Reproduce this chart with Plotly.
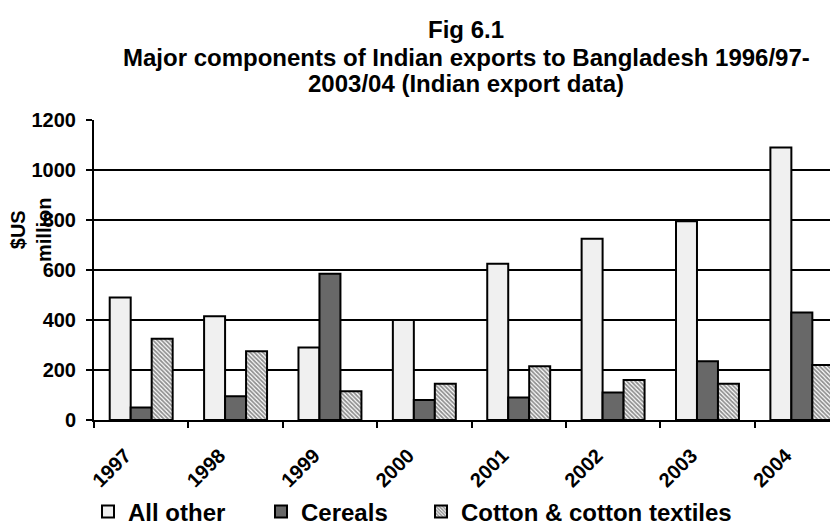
import plotly.graph_objects as go

years = ["1997", "1998", "1999", "2000", "2001", "2002", "2003", "2004"]
all_other = [490, 415, 290, 400, 625, 725, 795, 1090]
cereals = [50, 95, 585, 80, 90, 110, 235, 430]
cotton = [325, 275, 115, 145, 215, 160, 145, 220]
y_ticks = [0, 200, 400, 600, 800, 1000, 1200]
title_lines = ["Fig 6.1",
               "Major components of Indian exports to Bangladesh 1996/97-",
               "2003/04 (Indian export data)"]

FONT = "Liberation Sans, Arial, sans-serif"
# page body has an 8px margin in the browser; work in window coordinates
OFF = 8
PLOT_TOP, PLOT_BOTTOM, PLOT_LEFT, PLOT_RIGHT = 120, 420, 94, 838
W, H = 838 - OFF, 525 - OFF


def py(px):
    return (PLOT_BOTTOM - px) / (PLOT_BOTTOM - PLOT_TOP)


def pxx(px):
    return (px - PLOT_LEFT) / (PLOT_RIGHT - PLOT_LEFT)


fig = go.Figure()
fig.add_trace(go.Bar(
    x=years, y=all_other, name="All other", legend="legend",
    marker=dict(color="#f0f0f0", line=dict(color="black", width=2)),
))
fig.add_trace(go.Bar(
    x=years, y=cereals, name="Cereals", legend="legend2",
    marker=dict(color="#686868", line=dict(color="black", width=2)),
))
fig.add_trace(go.Bar(
    x=years, y=cotton, name="Cotton & cotton textiles", legend="legend3",
    marker=dict(color="white", line=dict(color="black", width=2),
                pattern=dict(shape="\\", fgcolor="#222222", bgcolor="white",
                             size=3, solidity=0.6)),
))

legend_font = dict(family=FONT, size=24, color="black", weight="bold")
leg_common = dict(orientation="h", xanchor="left", y=py(512), yanchor="middle",
                  font=legend_font, bgcolor="rgba(0,0,0,0)")

annotations = []
for txt, ycen in zip(title_lines, [30, 57, 84]):
    annotations.append(dict(text=txt, xref="paper", yref="paper", x=0.5, y=py(ycen),
                            xanchor="center", yanchor="middle", showarrow=False,
                            font=dict(family=FONT, size=24, color="black", weight="bold")))
annotations.append(dict(text="$US<br>million", textangle=-90,
                        xref="paper", yref="paper", x=pxx(31), y=py(230),
                        xanchor="center", yanchor="middle", showarrow=False,
                        font=dict(family=FONT, size=20, color="black", weight="bold")))

fig.update_layout(
    width=W, height=H,
    margin=dict(l=PLOT_LEFT - OFF, r=0, t=PLOT_TOP - OFF, b=H - (PLOT_BOTTOM - OFF),
                autoexpand=False),
    paper_bgcolor="white", plot_bgcolor="white",
    barmode="group", bargap=0.333, bargroupgap=0,
    font=dict(family=FONT, color="black", size=20),
    showlegend=True,
    legend=dict(x=pxx(88), **leg_common),
    legend2=dict(x=pxx(261), **leg_common),
    legend3=dict(x=pxx(421), **leg_common),
    annotations=annotations,
)

fig.update_xaxes(
    type="category", range=[-0.5, 7.383], automargin=False,
    showline=True, linecolor="black", linewidth=2,
    ticks="outside", tickson="boundaries", ticklen=6, tickwidth=2, tickcolor="black",
    tickangle=-45, tickfont=dict(family=FONT, size=20, color="black", weight="bold"),
    ticklabelstandoff=14, ticklabelshift=-16,
    showgrid=False, zeroline=False,
)
fig.update_yaxes(
    range=[0, 1200], tickvals=y_ticks, automargin=False,
    showline=True, linecolor="black", linewidth=2,
    ticks="outside", ticklen=6, tickwidth=2, tickcolor="black",
    tickfont=dict(family=FONT, size=20, color="black", weight="bold"),
    ticklabelstandoff=6,
    showgrid=True, gridcolor="black", gridwidth=2, zeroline=False,
)

fig.write_html("out.html")
